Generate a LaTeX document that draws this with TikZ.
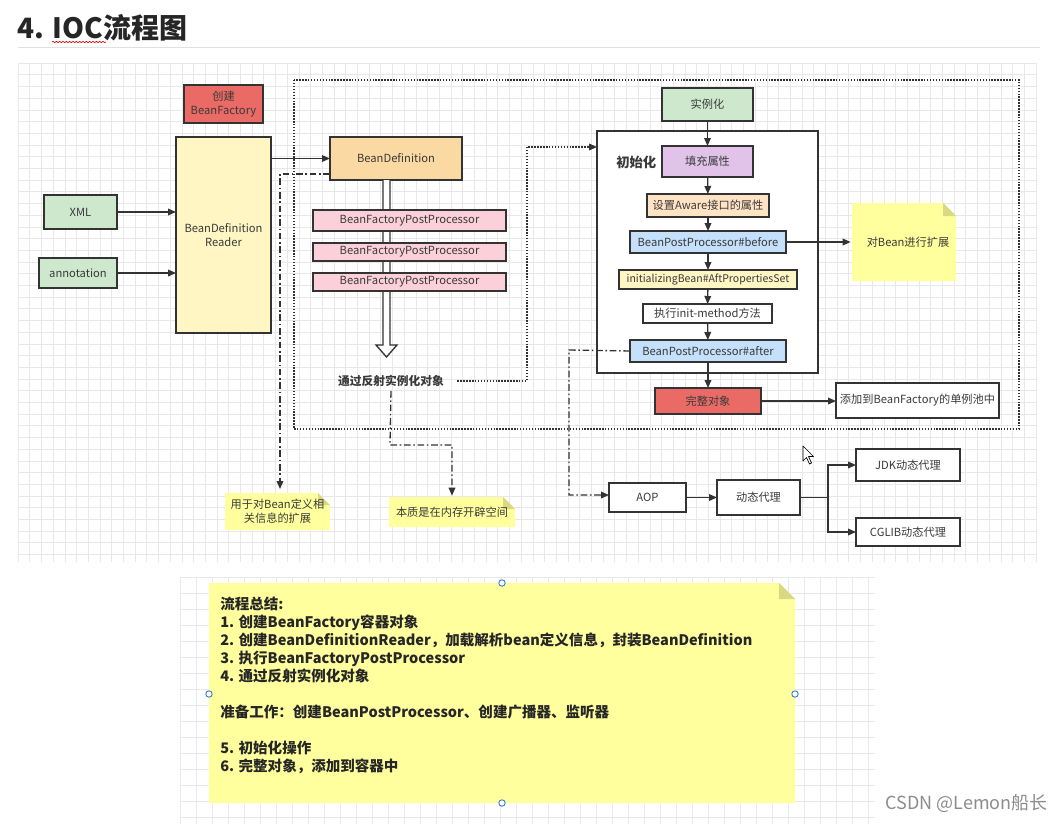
\documentclass[tikz,border=0pt]{standalone}
\usepackage{fontspec}
\setmainfont{Noto Sans CJK SC}
\usetikzlibrary{arrows.meta,decorations.pathmorphing}
\definecolor{ln}{HTML}{333333}
\definecolor{txt}{HTML}{3A3A3A}
\definecolor{redf}{HTML}{EA6B66}
\definecolor{yelf}{HTML}{FFF6C4}
\definecolor{grnf}{HTML}{CDE8CD}
\definecolor{orgf}{HTML}{FBD9A2}
\definecolor{pnkf}{HTML}{FCD0DA}
\definecolor{purf}{HTML}{E1C3EA}
\definecolor{bluf}{HTML}{C4E0FA}
\definecolor{awf}{HTML}{FFE3C4}
\definecolor{notef}{HTML}{FFFF9E}
\definecolor{foldf}{HTML}{D9D983}
\definecolor{gridc}{HTML}{E8E8E8}
\definecolor{handle}{HTML}{3D7DD8}
\newcommand\mkbox[7]{\node[#6, minimum width={(#4-#2)*0.75pt}, minimum height={(#5-#3)*0.75pt}] (#1) at ({(#2+#4)/2},{(#3+#5)/2}) {#7};}
\newcommand\mknote[7]{%
  \fill[notef] (#2,#3) -- ({#4-#6},#3) -- (#4,{#3+#6}) -- (#4,#5) -- (#2,#5) -- cycle;
  \fill[foldf] ({#4-#6},#3) -- ({#4-#6},{#3+#6}) -- (#4,{#3+#6}) -- cycle;
  \node[inner sep=0pt, outer sep=0pt, minimum width={(#4-#2)*0.75pt}, minimum height={(#5-#3)*0.75pt}, align=center, text=txt] (#1) at ({(#2+#4)/2},{(#3+#5)/2}) {#7};}
\begin{document}
\begin{tikzpicture}[x=0.75pt,y=-0.75pt,
  font=\fontsize{8.4pt}{10.5pt}\selectfont,
  box/.style={draw=ln, line width=1.1pt, inner sep=0pt, outer sep=0pt, text=txt, align=center},
  thin box/.style={box, line width=0.9pt},
  arr/.style={draw=ln, line width=1pt, -{Triangle[length=6pt,width=5pt]}},
  dd/.style={draw=ln, line width=1pt, dash pattern=on 5pt off 2pt on 1.2pt off 2pt},
  dots/.style={draw=ln, line width=1.1pt, dash pattern=on 1.1pt off 1.1pt},
]
\useasboundingbox (0,0) rectangle (1064,824);
\fill[white] (0,0) rectangle (1064,824);
% grids
\foreach \i in {0,...,87} \draw[gridc, line width=0.4pt] ({18+\i*11.7},63) -- ({18+\i*11.7},562);
\foreach \j in {0,...,42} \draw[gridc, line width=0.4pt] (18,{63+\j*11.7}) -- (1036,{63+\j*11.7});
\foreach \i in {0,...,43} \draw[gridc, line width=0.4pt] ({180+\i*16},577) -- ({180+\i*16},824);
\foreach \j in {0,...,15} \draw[gridc, line width=0.4pt] (180,{577+\j*16}) -- (875,{577+\j*16});
% title
\node[anchor=west, inner sep=0pt, font=\fontsize{21pt}{24pt}\selectfont\bfseries, text=black!85] (title) at (17,28) {4. IOC流程图};
\draw[black!12, line width=0.6pt] (18,47) -- (1040,47);
\draw[red!85!black, line width=0.5pt, decorate, decoration={snake, amplitude=0.5pt, segment length=2.5pt}] (52,42) -- (106,42);
% big dotted region
\draw[dots] (294,80) rectangle (1019,429);
% left part
\mkbox{bf}{184}{85}{263}{123}{box, fill=redf}{创建\\BeanFactory}
\mkbox{reader}{176}{137}{271}{333}{box, fill=yelf}{BeanDefinition\\Reader}
\mkbox{xml}{44}{195}{117}{229}{box, fill=grnf}{XML}
\mkbox{anno}{39}{258}{117}{288}{box, fill=grnf}{annotation}
\draw[arr] (xml.east) -- (xml.east -| reader.west);
\draw[arr] (anno.east) -- (anno.east -| reader.west);
\mkbox{bd}{330}{137}{462}{180}{box, fill=orgf}{BeanDefinition}
\draw[arr] (reader.east |- bd.west) -- (bd.west);
% hollow double arrow
\draw[ln, line width=1pt, fill=white] (bd.south -| 383,0) -- (383,345) -- (376,345) -- (386.5,357) -- (397,345) -- (390,345) -- (bd.south -| 390,0);
\mkbox{p1}{313}{210}{506}{231}{thin box, fill=pnkf}{BeanFactoryPostProcessor}
\mkbox{p2}{313}{243}{506}{261}{thin box, fill=pnkf}{BeanFactoryPostProcessor}
\mkbox{p3}{313}{273}{506}{291}{thin box, fill=pnkf}{BeanFactoryPostProcessor}
\node[font=\fontsize{8.8pt}{10pt}\selectfont\bfseries, text=txt, inner sep=1pt] (reflect) at (391,381) {通过反射实例化对象};
% init container
\mkbox{initbox}{597}{131}{818}{373}{box, fill=white}{}
\node[font=\fontsize{10pt}{11pt}\selectfont\bfseries, text=txt, anchor=west, inner sep=0pt] (initlbl) at (616,162) {初始化};
\mkbox{inst}{662}{88}{753}{121}{box, fill=grnf}{实例化}
\mkbox{fill}{662}{146}{753}{177}{box, fill=purf}{填充属性}
\mkbox{aware}{647}{194}{769}{217}{box, fill=awf}{设置Aware接口的属性}
\mkbox{before}{630}{231}{786}{253}{box, fill=bluf}{BeanPostProcessor\#before}
\mkbox{aft}{619}{270}{797}{289}{thin box, fill=yelf, font=\fontsize{7.9pt}{9pt}\selectfont}{initializingBean\#AftPropertiesSet}
\mkbox{exec}{643}{304}{772}{323}{thin box, fill=white}{执行init-method方法}
\mkbox{after}{630}{340}{786}{362}{box, fill=bluf}{BeanPostProcessor\#after}
\mkbox{full}{655}{388}{761}{414}{box, fill=redf}{完整对象}
\mkbox{add}{836}{383}{999}{418}{box, fill=white}{添加到BeanFactory的单例池中}
\draw[arr] (inst) -- (fill);
\draw[arr] (fill) -- (aware);
\draw[arr] (aware) -- (before);
\draw[arr] (before) -- (aft);
\draw[arr] (aft) -- (exec);
\draw[arr] (exec) -- (after);
\draw[arr] (after) -- (full);
\draw[arr] (full) -- (add.west |- full.east);
\mknote{ext}{852}{203}{956}{281}{13}{\hspace*{6pt}对Bean进行扩展}
\draw[arr] (before.east) -- ([xshift=-1pt]ext.west |- before.east);
% dotted arrow from reflection to init
\coordinate (d1) at (527,381);
\coordinate (d2) at (527,147);
\draw[dots, -{Triangle[length=6pt,width=5pt]}] ([xshift=9pt]reflect.east) -- (d1) -- (d2) -- (initbox.west |- d2);
% notes lower left
\mknote{n1}{225}{493}{330}{530}{12}{用于对Bean定义相\\关信息的扩展}
\mknote{n2}{389}{497}{515}{527}{12}{本质是在内存开辟空间}
\coordinate (e1) at (280,174);
\draw[dd, -{Triangle[length=6pt,width=5pt]}] (bd.west |- e1) -- (e1) -- ([yshift=3pt]n1.north -| e1);
\coordinate (f1) at (390,445);
\coordinate (f2) at (452,445);
\draw[dd, -{Triangle[length=6pt,width=5pt]}] ([yshift=-2pt]reflect.south) -- (f1) -- (f2) -- ([yshift=1pt]n2.north -| f2);
% AOP part
\mkbox{aop}{609}{483}{686}{512}{box, fill=white}{AOP}
\mkbox{dyn}{717}{480}{800}{515}{box, fill=white}{动态代理}
\mkbox{jdk}{856}{449}{960}{481}{box, fill=white}{JDK动态代理}
\mkbox{cglib}{856}{518}{960}{546}{box, fill=white}{CGLIB动态代理}
\coordinate (g1) at (569,350);
\draw[dd, -{Triangle[length=6pt,width=5pt]}] (after.west) -- (g1) -- (569,495) -- (aop.west |- 0,495);
\draw[arr] (aop.east) -- (dyn.west |- aop.east);
\coordinate (br) at (828,497.5);
\draw[arr] (dyn.east |- br) -- (br) |- (jdk.west);
\draw[arr] (br) |- (cglib.west);
% cursor
\draw[black, fill=white, line width=0.5pt, line join=round] (803,446) -- (803,461) -- (806.5,457.5) -- (809.5,464) -- (811.5,463) -- (808.5,456.5) -- (813.5,456.5) -- cycle;
% summary note
\mknote{sum}{209}{583}{795}{803}{16}{}
\node[anchor=north west, inner sep=0pt, align=left, text=black!85, font=\fontsize{10.9pt}{13.5pt}\selectfont\bfseries] (sumtext) at (220,597) {流程总结:\\1. 创建BeanFactory容器对象\\2. 创建BeanDefinitionReader，加载解析bean定义信息，封装BeanDefinition\\3. 执行BeanFactoryPostProcessor\\4. 通过反射实例化对象\\[13.5pt]准备工作：创建BeanPostProcessor、创建广播器、监听器\\[13.5pt]5. 初始化操作\\6. 完整对象，添加到容器中};
\foreach \p in {(502,583),(209,694),(795,694),(502,803)} \draw[handle, fill=white, line width=0.7pt] \p circle (3.2);
% watermark
\node[anchor=east, inner sep=0pt, text=black!45, font=\fontsize{13.5pt}{15pt}\selectfont] (wm) at (1048,803) {CSDN @Lemon船长};
\end{tikzpicture}
\end{document}
